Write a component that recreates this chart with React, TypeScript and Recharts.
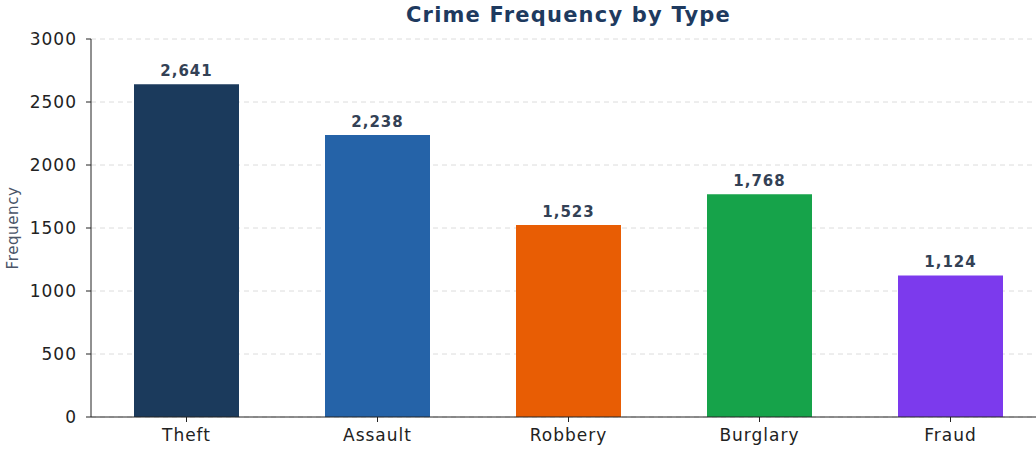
import { BarChart, Bar, Cell, XAxis, YAxis, CartesianGrid, LabelList } from 'recharts';

const FONT = '"DejaVu Sans", sans-serif';

const crimeTypes = ['Theft', 'Assault', 'Robbery', 'Burglary', 'Fraud'];
const frequencies = [2641, 2238, 1523, 1768, 1124];
const barColors = ['#1b3a5c', '#2563a8', '#e85d04', '#16a34a', '#7c3aed'];
const yTicks = [0, 500, 1000, 1500, 2000, 2500, 3000];

const data = crimeTypes.map((type, i) => ({ type, count: frequencies[i] }));

const tickStyle = { fill: '#222', fontSize: 17, fontFamily: FONT, letterSpacing: 1 };

export default function App() {
  return (
    <div style={{ position: 'absolute', left: 0, top: 0, width: 1036, height: 449, overflow: 'hidden', background: '#fff', fontFamily: FONT }}>
      <div style={{
        position: 'absolute', left: 91, width: 955, top: 3, textAlign: 'center',
        fontSize: 21, fontWeight: 'bold', color: '#1e3a5f', letterSpacing: 1.2,
      }}>
        Crime Frequency by Type
      </div>
      <BarChart width={1050} height={449} data={data} margin={{ top: 39, right: 4, left: 0, bottom: 2 }}>
        <CartesianGrid vertical={false} stroke="#dcdcdc" strokeDasharray="5 4" />
        <XAxis
          dataKey="type"
          height={30}
          axisLine={{ stroke: '#222' }}
          tickLine={{ stroke: '#222' }}
          tickSize={5}
          tickMargin={7}
          tick={tickStyle}
        />
        <YAxis
          width={91}
          domain={[0, 3000]}
          ticks={yTicks}
          axisLine={{ stroke: '#222' }}
          tickLine={{ stroke: '#222' }}
          tickSize={5}
          tickMargin={9}
          tick={tickStyle}
          label={{
            value: 'Frequency', angle: -90, position: 'insideLeft', offset: 0, dx: 13,
            style: { fill: '#4a5568', fontSize: 15, fontFamily: FONT, textAnchor: 'middle', letterSpacing: 0.6 },
          }}
        />
        <Bar dataKey="count" barSize={105} isAnimationActive={false}>
          {data.map((d, i) => <Cell key={d.type} fill={barColors[i]} />)}
          <LabelList
            dataKey="count"
            position="top"
            offset={8}
            formatter={(v: number) => Number(v).toLocaleString('en-US')}
            style={{ fill: '#334155', fontSize: 15, fontWeight: 'bold', fontFamily: FONT, letterSpacing: 1 }}
          />
        </Bar>
      </BarChart>
    </div>
  );
}
